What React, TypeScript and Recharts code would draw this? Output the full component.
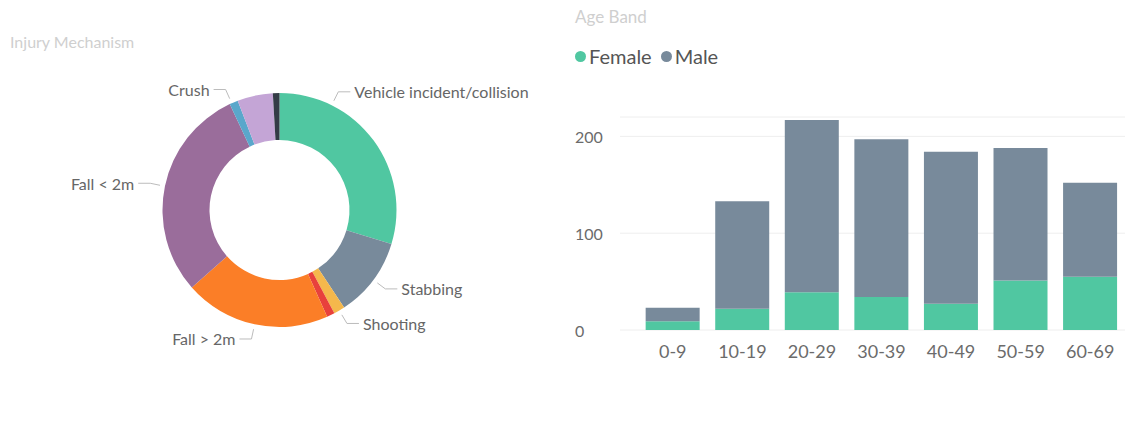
import React from 'react';
import { PieChart, Pie, Cell, BarChart, Bar, XAxis, YAxis, CartesianGrid } from 'recharts';

// ---- Injury mechanism (donut) ----
const mechanismNames = [
  'Vehicle incident/collision',
  'Stabbing',
  'Shooting',
  'Other',
  'Fall > 2m',
  'Fall < 2m',
  'Drowning',
  'Crush',
  'Burn',
];
const mechanismCounts = [327, 121, 17, 12, 222, 325, 13, 54, 10];
const mechanismColors = [
  '#50C7A1',
  '#788A9B',
  '#F5B84C',
  '#E8413C',
  '#FB7E27',
  '#9A6D9B',
  '#5AA7CB',
  '#C4A5D6',
  '#343B46',
];
const labelledMechanisms = ['Vehicle incident/collision', 'Stabbing', 'Shooting', 'Fall > 2m', 'Fall < 2m', 'Crush'];

// ---- Age band (stacked bars) ----
const ageBands = ['0-9', '10-19', '20-29', '30-39', '40-49', '50-59', '60-69'];
const femaleCounts = [9, 22, 39, 34, 27, 51, 55];
const maleCounts = [14, 111, 178, 163, 157, 137, 97];
const yTicks = [0, 100, 200];

const FONT = 'Lato, "Open Sans", "DejaVu Sans", sans-serif';
const RAD = Math.PI / 180;

// label placement tweaks (style only), degrees added to the slice's mid angle
const labelAngleShift: Record<string, number> = {
  'Vehicle incident/collision': 27,
  Crush: 12,
};

const pieData = mechanismNames.map((name, i) => ({ name, value: mechanismCounts[i] }));
const barData = ageBands.map((band, i) => ({ band, Female: femaleCounts[i], Male: maleCounts[i] }));

const renderPieLabel = (props: any) => {
  const { cx, cy, midAngle, outerRadius, name } = props;
  if (!labelledMechanisms.includes(name)) return null;
  const ang = midAngle + (labelAngleShift[name] || 0);
  const cos = Math.cos(-ang * RAD);
  const sin = Math.sin(-ang * RAD);
  const sx = cx + (outerRadius + 5) * cos;
  const sy = cy + (outerRadius + 5) * sin;
  const mx = cx + (outerRadius + 15) * cos;
  const my = cy + (outerRadius + 15) * sin;
  const right = cos >= 0;
  const ex = mx + (right ? 1 : -1) * 12;
  const ey = my;
  return (
    <g key={`lbl-${name}`}>
      <path d={`M${sx},${sy}L${mx},${my}L${ex},${ey}`} stroke="#bcbcbc" strokeWidth={1} fill="none" />
      <text
        x={ex + (right ? 4 : -4)}
        y={ey}
        textAnchor={right ? 'start' : 'end'}
        dominantBaseline="central"
        fill="#666"
        fontSize={16}
        fontFamily={FONT}
      >
        {name}
      </text>
    </g>
  );
};

const YTick = (props: any) => {
  const { y, payload } = props;
  return (
    <text x={15} y={y} textAnchor="start" dominantBaseline="central" fill="#6b6b6b" fontSize={16} fontFamily={FONT}>
      {payload.value}
    </text>
  );
};

export default function App() {
  return (
    <div style={{ position: 'absolute', left: 0, top: 0, width: 1131, height: 421, background: '#fff', fontFamily: FONT }}>
      <div style={{ position: 'absolute', left: 10, top: 32, fontSize: 16, color: '#cfcfcf' }}>Injury Mechanism</div>
      <div style={{ position: 'absolute', left: 0, top: 0 }}>
        <PieChart width={560} height={421}>
          <Pie
            data={pieData}
            dataKey="value"
            nameKey="name"
            cx={274.5}
            cy={205}
            innerRadius={70}
            outerRadius={117}
            startAngle={90}
            endAngle={-270}
            stroke="none"
            label={renderPieLabel}
            labelLine={false}
            isAnimationActive={false}
          >
            {pieData.map((d, i) => (
              <Cell key={d.name} fill={mechanismColors[i]} />
            ))}
          </Pie>
        </PieChart>
      </div>

      <div style={{ position: 'absolute', left: 575, top: 6, fontSize: 17, color: '#cfcfcf' }}>Age Band</div>
      <div style={{ position: 'absolute', left: 575, top: 44, display: 'flex', alignItems: 'center', fontSize: 20, color: '#555' }}>
        <span style={{ width: 11, height: 11, borderRadius: '50%', background: '#50C7A1', display: 'inline-block', marginRight: 3 }} />
        <span style={{ marginRight: 9 }}>Female</span>
        <span style={{ width: 11, height: 11, borderRadius: '50%', background: '#788A9B', display: 'inline-block', marginRight: 3 }} />
        <span>Male</span>
      </div>
      <div style={{ position: 'absolute', left: 560, top: 0 }}>
        <BarChart
          width={571}
          height={421}
          data={barData}
          margin={{ top: 117, right: 6, bottom: 61, left: 0 }}
          barCategoryGap="11%"
        >
          <CartesianGrid vertical={false} stroke="#eeeeee" />
          <XAxis
            dataKey="band"
            axisLine={false}
            tickLine={false}
            tickMargin={9}
            height={30}
            padding={{ left: 18, right: 0 }}
            tick={{ fill: '#6b6b6b', fontSize: 18, fontFamily: FONT }}
            interval={0}
          />
          <YAxis
            width={60}
            domain={[0, 220]}
            ticks={yTicks}
            axisLine={false}
            tickLine={false}
            tick={<YTick />}
          />
          <Bar dataKey="Female" stackId="a" fill="#50C7A1" isAnimationActive={false} />
          <Bar dataKey="Male" stackId="a" fill="#788A9B" isAnimationActive={false} />
        </BarChart>
      </div>
    </div>
  );
}
